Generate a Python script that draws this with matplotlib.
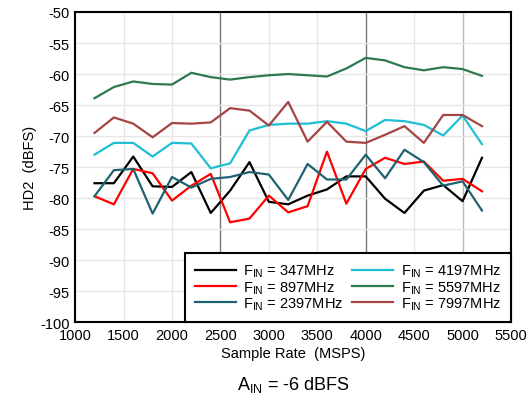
import matplotlib
matplotlib.use('Agg')
import matplotlib.pyplot as plt

plt.rcParams['font.family'] = ['Liberation Sans', 'DejaVu Sans']
plt.rcParams['mathtext.default'] = 'regular'
plt.rcParams['axes.unicode_minus'] = False

# sample rates (MSPS)
rate = [1200, 1400, 1600, 1800, 2000, 2200, 2400, 2600, 2800, 3000, 3200,
        3400, 3600, 3800, 4000, 4200, 4400, 4600, 4800, 5000, 5200]

hd2_347 = [-77.6, -77.6, -73.3, -78.1, -78.2, -75.8, -82.4, -78.8, -74.2, -80.6, -81.0,
           -79.6, -78.6, -76.5, -76.5, -80.1, -82.4, -78.8, -77.9, -80.5, -73.5]
hd2_897 = [-79.7, -81.0, -75.3, -76.0, -80.4, -78.0, -76.1, -83.9, -83.3, -79.6, -82.3,
           -81.3, -72.5, -80.9, -75.3, -73.5, -74.5, -74.1, -77.2, -76.9, -78.9]
hd2_2397 = [-79.7, -75.5, -75.3, -82.5, -76.6, -78.3, -76.9, -76.6, -75.8, -76.2, -80.3,
            -74.5, -77.0, -77.0, -73.0, -76.8, -72.2, -74.2, -78.0, -77.3, -82.0]
hd2_4197 = [-73.0, -71.1, -71.1, -73.3, -71.1, -71.2, -75.2, -74.4, -69.1, -68.2, -68.0,
            -68.0, -67.6, -68.0, -69.2, -67.4, -67.6, -68.2, -69.9, -66.7, -71.3]
hd2_5597 = [-63.9, -62.1, -61.2, -61.6, -61.7, -59.8, -60.5, -60.9, -60.5, -60.2, -60.0,
            -60.2, -60.4, -59.1, -57.4, -57.8, -58.9, -59.4, -58.9, -59.2, -60.3]
hd2_7997 = [-69.5, -67.0, -68.0, -70.2, -67.9, -68.0, -67.8, -65.5, -65.9, -68.3, -64.5,
            -70.9, -67.7, -70.9, -71.1, -69.8, -68.4, -71.1, -66.6, -66.6, -68.4]

labels = ['$F_{IN}$ = 347MHz', '$F_{IN}$ = 897MHz', '$F_{IN}$ = 2397MHz',
          '$F_{IN}$ = 4197MHz', '$F_{IN}$ = 5597MHz', '$F_{IN}$ = 7997MHz']
series = [hd2_347, hd2_897, hd2_2397, hd2_4197, hd2_5597, hd2_7997]
colors = ['#000000', '#ff0000', '#1f6272', '#1ebfd2', '#2c7a4e', '#a54444']

fig = plt.figure(figsize=(5.29, 4.06), dpi=100)
ax = fig.add_axes([0.142, 0.204, 0.824, 0.764])

# grid
for x in range(1000, 5501, 500):
    c = '#e6e6e6'
    if x in (2500, 4000):
        c = '#777777'
    elif x == 5000:
        c = '#bbbbbb'
    ax.axvline(x, color=c, lw=1.0, zorder=0)
for y in range(-100, -49, 5):
    ax.axhline(y, color='#e6e6e6', lw=1.0, zorder=0)

for s, lab, c in zip(series, labels, colors):
    ax.plot(rate, s, color=c, lw=1.6, label=lab)

ax.set_xlim(1000, 5500)
ax.set_ylim(-100, -50)
ax.set_xticks(range(1000, 5501, 500))
ax.set_yticks(range(-100, -49, 5))
ax.tick_params(length=0, labelsize=10.5, pad=4)
for sp in ax.spines.values():
    sp.set_linewidth(1.5)
ax.set_xlabel('Sample Rate  (MSPS)', fontsize=10.5, labelpad=3)
ax.set_ylabel('HD2  (dBFS)', fontsize=10.5, labelpad=2)

leg = ax.legend(loc='lower right', bbox_to_anchor=(1.0, 0.0), ncol=2,
                fontsize=10.5, frameon=True, fancybox=False, borderaxespad=0,
                handlelength=2.8, columnspacing=0.6, labelspacing=0.0,
                handletextpad=0.5, borderpad=0.7)
leg.get_frame().set_edgecolor('black')
leg.get_frame().set_linewidth(1.5)
leg.get_frame().set_alpha(1)

fig.text(0.555, 0.04, '$A_{IN}$ = -6 dBFS', ha='center', fontsize=13)

fig.savefig('out.png', dpi=100)
